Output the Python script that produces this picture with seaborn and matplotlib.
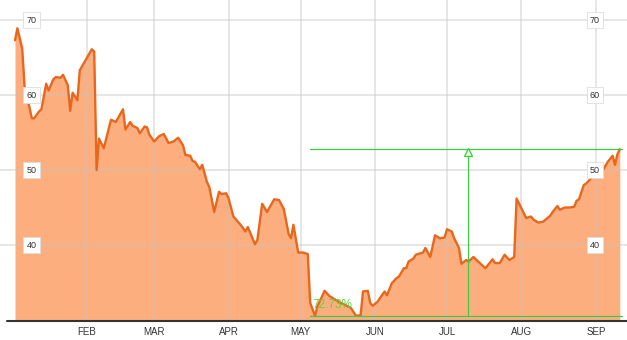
import matplotlib
matplotlib.use("Agg")
import matplotlib.pyplot as plt
import seaborn as sns
import pandas as pd

# ---------------- data ----------------
year = "2013"
dates = [
    "01-02", "01-03", "01-05", "01-06", "01-08", "01-09", "01-10", "01-12", "01-13", "01-15",
    "01-16", "01-18", "01-19", "01-21", "01-22", "01-24", "01-25", "01-26", "01-28", "01-29",
    "02-03", "02-04", "02-05", "02-06", "02-08", "02-11", "02-13", "02-16", "02-17", "02-19",
    "02-20", "02-22", "02-23", "02-25", "02-26", "02-27", "03-01", "03-03", "03-05", "03-07",
    "03-09", "03-11", "03-13", "03-14", "03-16", "03-17", "03-18", "03-20", "03-21", "03-23",
    "03-24", "03-26", "03-28", "03-29", "03-31", "04-01", "04-03", "04-06", "04-08", "04-09",
    "04-12", "04-13", "04-15", "04-17", "04-20", "04-22", "04-24", "04-26", "04-27", "04-28",
    "04-30", "05-02", "05-04", "05-05", "05-07", "05-08", "05-11", "05-13", "05-15", "05-17",
    "05-19", "05-22", "05-23", "05-24", "05-26", "05-27", "05-29", "05-30", "05-31", "06-02",
    "06-03", "06-05", "06-06", "06-08", "06-10", "06-11", "06-13", "06-14", "06-15", "06-17",
    "06-18", "06-21", "06-22", "06-24", "06-25", "06-26", "06-28", "06-30", "07-01", "07-03",
    "07-04", "07-06", "07-07", "07-09", "07-10", "07-12", "07-14", "07-17", "07-20", "07-21",
    "07-23", "07-25", "07-27", "07-29", "07-30", "08-01", "08-03", "08-05", "08-06", "08-08",
    "08-10", "08-13", "08-14", "08-16", "08-17", "08-19", "08-21", "08-23", "08-24", "08-25",
    "08-27", "08-28", "08-30", "09-01", "09-04", "09-06", "09-08", "09-09", "09-10", "09-11",
]
prices = [
    67.3, 68.9, 66.2, 61.1, 58.4, 56.9, 56.9, 57.8, 58.1, 61.5,
    60.6, 62.1, 62.4, 62.3, 62.7, 61.3, 57.9, 60.3, 59.3, 63.3,
    66.1, 65.8, 50.0, 54.2, 52.9, 56.7, 56.4, 58.1, 55.4, 56.4,
    55.9, 55.6, 54.9, 55.8, 55.7, 54.7, 53.8, 54.5, 54.8, 53.6,
    53.8, 54.3, 53.3, 52.0, 51.9, 51.2, 51.1, 50.1, 50.7, 48.4,
    47.7, 44.4, 47.1, 46.8, 46.9, 46.2, 43.8, 42.7, 41.8, 42.4,
    40.1, 40.7, 45.5, 44.4, 46.1, 46.0, 44.8, 41.5, 40.9, 42.7,
    39.0, 39.0, 38.8, 32.3, 30.55, 31.8, 33.9, 33.2, 32.8, 32.4,
    32.1, 31.6, 31.1, 30.6, 30.6, 33.8, 33.9, 32.3, 31.9, 32.4,
    32.9, 33.8, 33.3, 34.9, 35.6, 35.8, 36.9, 36.9, 37.8, 38.2,
    38.7, 39.0, 39.6, 38.4, 39.8, 41.3, 40.9, 41.0, 42.1, 41.8,
    40.9, 39.6, 37.5, 38.0, 37.8, 38.4, 37.8, 36.9, 38.1, 37.6,
    37.6, 38.7, 38.0, 38.4, 46.2, 44.9, 43.6, 43.8, 43.4, 43.0,
    43.1, 43.9, 44.4, 45.2, 44.7, 45.0, 45.0, 45.1, 45.9, 46.1,
    48.0, 48.2, 48.9, 49.1, 50.0, 51.1, 51.9, 50.7, 52.1, 52.77,
]
month_dates = ["02-01", "03-01", "04-01", "05-01", "06-01", "07-01", "08-01", "09-01"]
month_labels = ["FEB", "MAR", "APR", "MAY", "JUN", "JUL", "AUG", "SEP"]
y_ticks = [40, 50, 60, 70]

low_value = 30.55
high_value = 52.77
change_label = "72.73%"
range_start = "05-05"
range_end = "09-12"
range_marker = "07-09 14:00"

# ---------------- styling ----------------
FILL = "#FDAE7E"
LINE = "#E8671C"
GREEN = "#3FCB3F"
TEXT_GREEN = "#66D040"
GRID = "#c4c4c4"

sns.set_style("white")
plt.rcParams["font.family"] = ["Liberation Sans", "DejaVu Sans"]

W, H = 627, 340
fig = plt.figure(figsize=(W / 100, H / 100), dpi=100)
ax = fig.add_axes([0, 19 / H, 1, 321 / H])

df = pd.DataFrame({"date": pd.to_datetime([f"{year}-{d}" for d in dates]), "price": prices})

base = pd.Timestamp(f"{year}-01-01")
ymin, ymax = 29.87, 72.67
ax.set_xlim(base - pd.Timedelta(days=5.25), base + pd.Timedelta(days=256))
ax.set_ylim(ymin, ymax)

ax.fill_between(df["date"], df["price"], ymin, color=FILL, lw=0, zorder=2)
sns.lineplot(data=df, x="date", y="price", ax=ax, color=LINE, lw=1.7, zorder=4)

ax.set_xticks(pd.to_datetime([f"{year}-{d}" for d in month_dates]))
ax.set_xticklabels(month_labels)
ax.set_yticks(y_ticks)
ax.set_yticklabels([])
ax.grid(True, color=GRID, lw=1.3, alpha=0.45, zorder=3)
ax.set_axisbelow(False)
for gl in ax.get_xgridlines() + ax.get_ygridlines():
    gl.set_zorder(3)
ax.tick_params(length=0, pad=4, labelsize=7, colors="#333333")
ax.set_xlabel("")
ax.set_ylabel("")
for s in ax.spines.values():
    s.set_visible(False)

ax.axhline(ymin, xmin=7 / W, xmax=1, color="#333333", lw=1.5, clip_on=False, zorder=5)

# y labels in boxes, both sides
for v in y_ticks:
    for xf in (31.5 / W, 595 / W):
        ax.text(xf, v, str(v), transform=ax.get_yaxis_transform(), ha="center", va="center",
                fontsize=6.5, color="#333333", zorder=6,
                bbox=dict(boxstyle="square,pad=0.35", fc="white", ec="#dddddd", lw=0.6))

# range annotation
x0 = pd.Timestamp(f"{year}-{range_start}")
x1 = pd.Timestamp(f"{year}-{range_end}")
xm = pd.Timestamp(f"{year}-{range_marker}")
ax.plot([x0, x1], [low_value, low_value], color=GREEN, lw=0.9, zorder=6)
ax.plot([x0, x1], [high_value, high_value], color=GREEN, lw=0.9, zorder=6)
ax.plot([xm, xm], [low_value, high_value], color=GREEN, lw=0.9, zorder=6)
ax.plot([xm], [high_value - 0.35], marker="^", ms=6, mfc="#eaf8e4", mec=GREEN, mew=0.9, zorder=7)
ax.annotate(change_label, xy=(x0, low_value), xytext=(1.5, 7.5), textcoords="offset points",
            ha="left", va="center", fontsize=8.5, color=TEXT_GREEN, zorder=7)

fig.savefig("out.png", dpi=100)
